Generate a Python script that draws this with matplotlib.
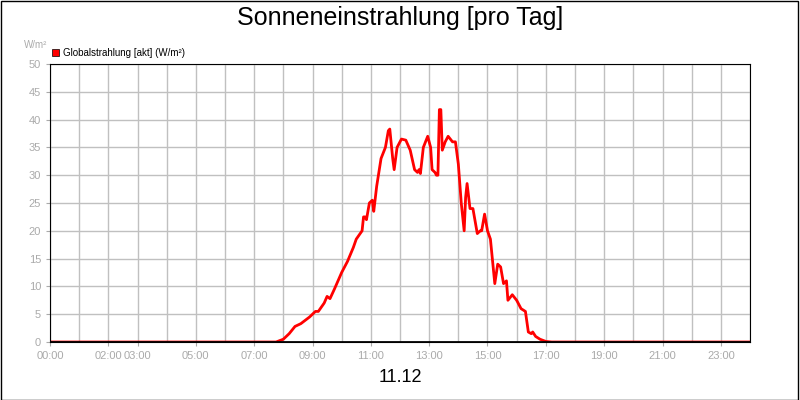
import numpy as np
import matplotlib.pyplot as plt
from matplotlib.patches import Patch

plt.rcParams['font.family'] = ['Liberation Sans', 'DejaVu Sans']

# Globalstrahlung, Stunden / W/m²
hours = [0, 7.75, 8.0, 8.2, 8.4, 8.6, 8.9, 9.1, 9.2, 9.4, 9.5, 9.6, 9.75, 10.0, 10.2, 10.4, 10.5,
         10.7, 10.75, 10.8, 10.85, 10.95, 11.05, 11.1, 11.2, 11.35, 11.5, 11.6, 11.65, 11.75, 11.8,
         11.9, 12.05, 12.2, 12.35, 12.5, 12.6, 12.65, 12.7, 12.8, 12.95, 13.05, 13.1, 13.2, 13.25,
         13.3, 13.35, 13.4, 13.45, 13.55, 13.65, 13.8, 13.9, 14.0, 14.1, 14.2, 14.25, 14.3, 14.4,
         14.5, 14.6, 14.65, 14.75, 14.8, 14.9, 15.0, 15.1, 15.25, 15.35, 15.45, 15.55, 15.65, 15.7,
         15.85, 16.0, 16.15, 16.3, 16.4, 16.5, 16.55, 16.65, 16.8, 17.0, 17.2, 24]
values = [0, 0, 0.5, 1.5, 2.8, 3.3, 4.5, 5.5, 5.5, 7, 8.2, 7.8, 9.5, 12.5, 14.5, 17, 18.5,
          20, 22.5, 22.5, 22, 25, 25.5, 23.5, 28, 33, 35, 38, 38.3, 33, 31,
          35, 36.5, 36.3, 34.5, 31, 30.5, 31, 30.3, 35, 37, 35, 31, 30.5, 30,
          30, 41.8, 41.8, 34.5, 36, 37, 36, 36, 32, 25, 20, 26, 28.5, 24,
          24, 21, 19.5, 20, 20, 23, 20, 18.5, 10.5, 14, 13.5, 10.5, 11, 7.5,
          8.5, 7.5, 6, 5.5, 1.8, 1.5, 1.8, 1, 0.5, 0.1, 0, 0]
tick_hours = [0, 2, 3, 5, 7, 9, 11, 13, 15, 17, 19, 21, 23]
tick_labels = ['00:00', '02:00', '03:00', '05:00', '07:00', '09:00', '11:00',
               '13:00', '15:00', '17:00', '19:00', '21:00', '23:00']

fig = plt.figure(figsize=(8, 4), dpi=100)
fig.patches.append(plt.Rectangle((0.001, 0.001), 0.997, 0.997, transform=fig.transFigure,
                                 fill=False, edgecolor='black', lw=1))
ax = fig.add_axes([0.0625, 0.145, 0.875, 0.695])
ax.plot(hours, values, color='red', lw=2)
ax.set_xlim(0, 24)
ax.set_ylim(0, 50)
ax.set_xticks(tick_hours)
ax.set_xticklabels(tick_labels)
ax.set_xticks(range(0, 25), minor=True)
ax.set_yticks(range(0, 51, 5))
ax.grid(True, which='both', color='#c0c0c0', lw=1)
ax.tick_params(which='both', colors='#aaaaaa', labelsize=8, length=3)
ax.tick_params(which='minor', length=0)
ax.axhline(0, color='black', lw=2)
fig.text(0.5, 0.955, 'Sonneneinstrahlung [pro Tag]', ha='center', va='center', fontsize=18)
fig.text(0.5, 0.055, '11.12', ha='center', va='center', fontsize=13)
fig.text(0.03, 0.88, 'W/m²', fontsize=7, color='#aaaaaa')
ax.legend(handles=[Patch(facecolor='red', edgecolor='black', lw=0.5,
                         label='Globalstrahlung [akt] (W/m²)')],
          loc='lower left', bbox_to_anchor=(-0.005, 1.0), frameon=False, fontsize=7,
          handlelength=0.7, handleheight=0.7, handletextpad=0.4, borderaxespad=0.2)
plt.savefig('out.png')
